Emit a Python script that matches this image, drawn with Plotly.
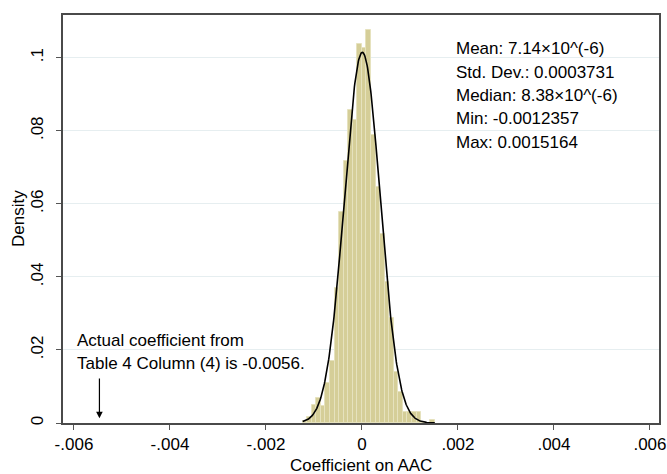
import numpy as np
import plotly.graph_objects as go

# ---- data ----
data_min = -0.0012357
data_max = 0.0015164
mean_val = 7.14e-6
sd_val = 0.0003731
n_bins = 29
bar_heights = [0.0005, 0.0017, 0.0049, 0.0069, 0.0047, 0.011, 0.0169, 0.037,
               0.0577, 0.0718, 0.0857, 0.083, 0.1037, 0.1028, 0.1075, 0.0789,
               0.0647, 0.0518, 0.0386, 0.0288, 0.014, 0.0085, 0.0031, 0.0031,
               0.0031, 0.003, 0.0, 0.0, 0.0007]
x_ticks = [-0.006, -0.004, -0.002, 0, 0.002, 0.004, 0.006]
x_tick_labels = ["-.006", "-.004", "-.002", "0", ".002", ".004", ".006"]
y_ticks = [0, 0.02, 0.04, 0.06, 0.08, 0.1]
y_tick_labels = ["0", ".02", ".04", ".06", ".08", ".1"]
stats_lines = ["Mean: 7.14×10^(-6)", "Std. Dev.: 0.0003731", "Median: 8.38×10^(-6)",
               "Min: -0.0012357", "Max: 0.0015164"]
note_lines = ["Actual coefficient from", "Table 4 Column (4) is -0.0056."]
actual_coef = -0.00547
x_title = "Coefficient on AAC"
y_title = "Density"

bin_w = (data_max - data_min) / n_bins
centers = [data_min + bin_w * (i + 0.5) for i in range(n_bins)]

# normal overlay (scaled to bin fraction)
xs = np.linspace(data_min, data_max, 300)
ys = bin_w / (sd_val * np.sqrt(2 * np.pi)) * np.exp(-0.5 * ((xs - mean_val) / sd_val) ** 2)

FONT = "Liberation Sans, Arial, Helvetica, sans-serif"
FS = 17

fig = go.Figure()
fig.add_trace(go.Bar(x=centers, y=bar_heights, width=bin_w,
                     marker=dict(color="rgb(213,206,152)",
                                 line=dict(color="rgb(230,226,190)", width=1)),
                     showlegend=False, hoverinfo="skip"))
fig.add_trace(go.Scatter(x=xs, y=ys, mode="lines",
                         line=dict(color="black", width=1.6),
                         showlegend=False, hoverinfo="skip"))

annotations = []
for i, t in enumerate(stats_lines):
    annotations.append(dict(x=0.00195, y=0.1024 - i * 0.00638, xref="x", yref="y",
                            text=t, showarrow=False, xanchor="left", yanchor="middle",
                            xshift=-2,
                            font=dict(size=FS, color="black", family=FONT)))
for i, t in enumerate(note_lines):
    annotations.append(dict(x=-0.00593, y=0.02255 - i * 0.0062, xref="x", yref="y",
                            text=t, showarrow=False, xanchor="left", yanchor="middle",
                            xshift=-2,
                            font=dict(size=FS, color="black", family=FONT)))
annotations.append(dict(x=actual_coef, y=0.0013, ax=actual_coef, ay=0.0126,
                        xref="x", yref="y", axref="x", ayref="y", text="",
                        showarrow=True, arrowhead=2, arrowsize=1.1, arrowwidth=1.2,
                        arrowcolor="black"))
annotations.append(dict(x=0.5, y=-0.103, xref="paper", yref="paper", text=x_title,
                        showarrow=False, xanchor="center", yanchor="middle",
                        font=dict(size=FS, color="black", family=FONT)))
annotations.append(dict(x=-0.0755, y=0.5, xref="paper", yref="paper", text=y_title,
                        showarrow=False, xanchor="center", yanchor="middle", textangle=-90,
                        font=dict(size=FS, color="black", family=FONT)))

fig.update_layout(
    width=667, height=474,
    margin=dict(l=63, r=8, t=15, b=51, autoexpand=False),
    paper_bgcolor="white", plot_bgcolor="white",
    bargap=0,
    font=dict(family=FONT, size=FS, color="black"),
    annotations=annotations,
    xaxis=dict(range=[-0.006229, 0.006188], tickvals=x_ticks, ticktext=x_tick_labels,
               ticks="outside", ticklen=5, tickcolor="#555", tickwidth=1.2,
               showline=True, linecolor="#4a4a4a", linewidth=1.5, mirror=True,
               showgrid=False, zeroline=False, automargin=False,
               ticklabeloverflow="allow",
               tickfont=dict(size=FS)),
    yaxis=dict(range=[0, 0.1117], tickvals=y_ticks, ticktext=y_tick_labels,
               tickangle=-90, ticklabelstandoff=6,
               ticks="outside", ticklen=5, tickcolor="#555", tickwidth=1.2,
               showline=True, linecolor="#4a4a4a", linewidth=1.5, mirror=True,
               showgrid=True, gridcolor="#e6eef0", gridwidth=1, zeroline=False,
               automargin=False,
               tickfont=dict(size=FS)),
)

# remove the default 8px page margin so the 667x474 figure fills the window
fig.write_html("out.html",
               config={"displayModeBar": False},
               post_script="document.body.style.margin='0px';document.body.style.overflow='hidden';")
